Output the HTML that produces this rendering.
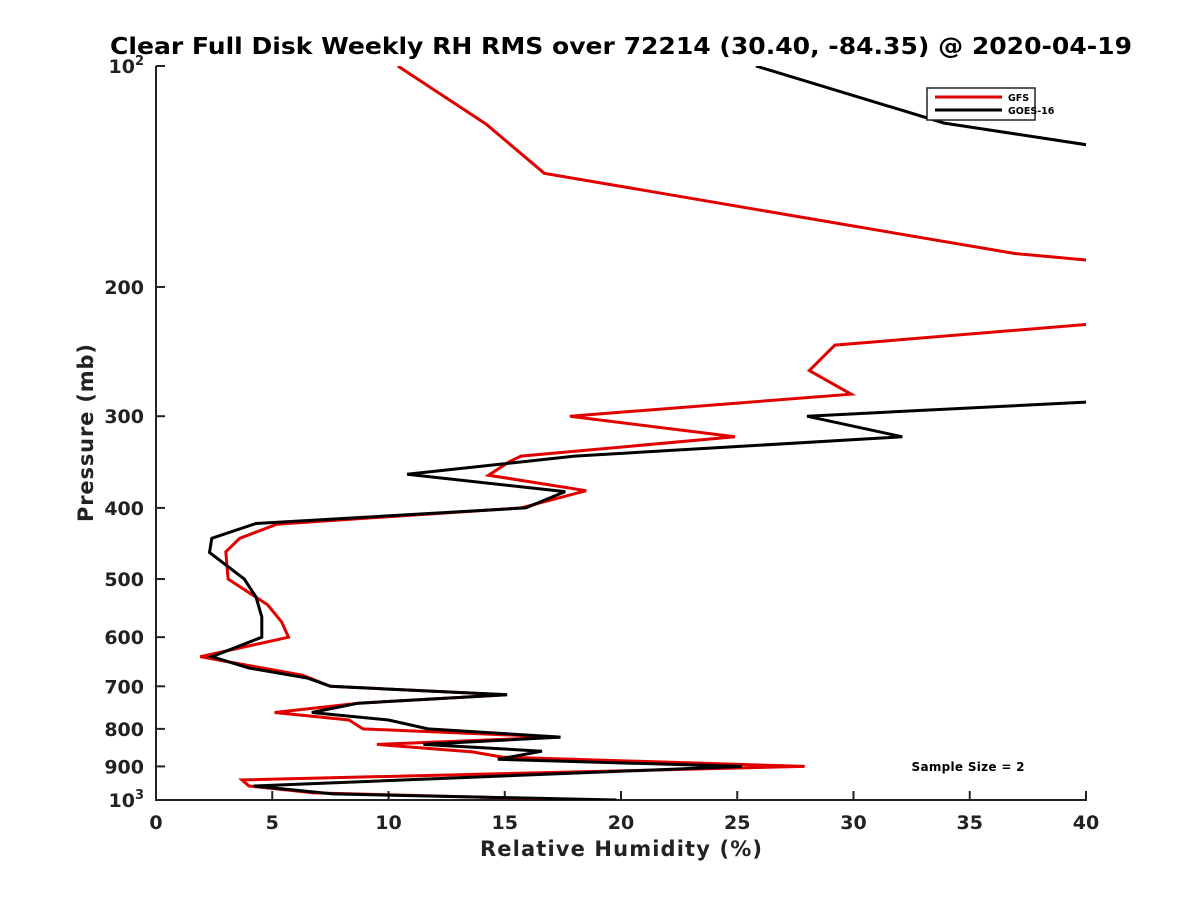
<!DOCTYPE html>
<html><head><meta charset="utf-8"><style>
body{margin:0;background:#fff}
svg{display:block;font-family:"DejaVu Sans","Liberation Sans",sans-serif;font-weight:bold}
</style></head><body>
<svg id="chart" width="1200" height="900" xmlns="http://www.w3.org/2000/svg">
<defs><clipPath id="plotclip"><rect x="156" y="66" width="930" height="734"/></clipPath></defs>
<text x="621" y="54" text-anchor="middle" font-size="23" fill="#000" textLength="1022" lengthAdjust="spacingAndGlyphs">Clear Full Disk Weekly RH RMS over 72214 (30.40, -84.35) @ 2020-04-19</text>
<g id="axes"></g>
<g id="series" clip-path="url(#plotclip)"></g>
<g>
<rect x="927" y="88" width="108" height="32" fill="#fff" stroke="#222" stroke-width="1.5"/>
<line x1="935" y1="97" x2="1002" y2="97" stroke="#e00000" stroke-width="3"/>
<text x="1008" y="101" font-size="9.5">GFS</text>
<line x1="935" y1="110" x2="1002" y2="110" stroke="#000" stroke-width="3"/>
<text x="1008" y="114" font-size="9.5">GOES-16</text>
</g>
<text x="968" y="771" text-anchor="middle" font-size="12" textLength="113">Sample Size = 2</text>
<text x="621" y="856" text-anchor="middle" font-size="21" fill="#222" textLength="282">Relative Humidity (%)</text>
<text transform="translate(93,433) rotate(-90)" text-anchor="middle" font-size="21" fill="#222" textLength="178">Pressure (mb)</text>
</svg>
<script>
const xTicks=[0,5,10,15,20,25,30,35,40];
const yTicks=[100,200,300,400,500,600,700,800,900,1000];
const yTickLabels=["10|2","200","300","400","500","600","700","800","900","10|3"];
const gfsP=[100,120,140,180,190,null,215,225,240,260,280,300,320,340,346,361,379,400,421,440,459,500,542,572,600,638,676,700,719,738,760,778,800,821,840,860,874,900,939,957,978,1000];
const gfsRH=[10.4,14.2,16.7,36.9,45,null,45,40,29.2,28.1,29.9,17.8,24.9,15.7,15.2,14.3,18.5,15.7,5.2,3.6,3.0,3.1,4.8,5.4,5.7,1.9,6.3,7.5,15.1,8.7,5.1,8.3,8.9,17.4,9.5,13.6,14.9,27.9,3.7,4.0,6.8,18.8];
const goesP=[100,119.6,128,135,null,282,287,300,320,340,360,380,400,420,440,460,500,529,563,600,638,661,682,700,719,738,760,778,800,821,840,858,880,900,957,981,1000];
const goesRH=[25.8,33.9,40,50,null,50,40,28.0,32.1,18.0,10.8,17.6,15.9,4.3,2.4,2.3,3.8,4.3,4.55,4.55,2.4,4.0,6.5,7.5,15.1,8.7,6.7,10.0,11.7,17.4,11.5,16.6,14.7,25.2,4.2,7.6,19.8];
const X0=156,X1=1086,Y0=66,Y1=800;
const xs=v=>X0+(v/40)*(X1-X0);
const ys=p=>Y0+(Math.log10(p)-2)*(Y1-Y0);
const NS="http://www.w3.org/2000/svg";
const axes=document.getElementById('axes');
function mk(tag,attrs,parent){const e=document.createElementNS(NS,tag);for(const k in attrs)e.setAttribute(k,attrs[k]);parent.appendChild(e);return e;}
const xa=mk('line',{x1:X0-1,y1:Y1,x2:X1+1,y2:Y1,stroke:'#222','stroke-width':2},axes);


const ya=mk('line',{x1:X0,y1:Y0,x2:X0,y2:Y1,stroke:'#222','stroke-width':2},axes);


xTicks.forEach(v=>{
  const x=xs(v);
  const t=mk('line',{x1:x,y1:Y1,x2:x,y2:Y1-9,stroke:'#222','stroke-width':2},axes);
  
  
  const l=mk('text',{x:x,y:Y1+29,'text-anchor':'middle','font-size':19,fill:'#222'},axes);
  l.textContent=v;
  
  
});
yTicks.forEach((p,i)=>{
  const y=ys(p);
  const t=mk('line',{x1:X0,y1:y,x2:X0+9,y2:y,stroke:'#222','stroke-width':2},axes);
  
  
  const lab=yTickLabels[i];
  const l=mk('text',{x:X0-12,y:y+7,'text-anchor':'end','font-size':19,fill:'#222'},axes);
  if(lab.indexOf('|')>=0){
    const parts=lab.split('|');
    const a=mk('tspan',{},l);a.textContent=parts[0];
    const b=mk('tspan',{dy:-8,'font-size':13},l);b.textContent=parts[1];
  } else l.textContent=lab;
  
  
});
const sg=document.getElementById('series');
function line(P,R,color,name){
  let segs=[[]];
  P.forEach((p,i)=>{ if(p===null){segs.push([]);} else segs[segs.length-1].push(xs(R[i]).toFixed(1)+','+ys(p).toFixed(1)); });
  segs.forEach(s=>{
    if(s.length<2)return;
    const e=mk('polyline',{points:s.join(' '),fill:'none',stroke:color,'stroke-width':3,'stroke-linejoin':'miter'},sg);
    
    
  });
}
line(gfsP,gfsRH,'#e00000','gfs-line');
line(goesP,goesRH,'#000','goes16-line');
</script>
</body></html>
